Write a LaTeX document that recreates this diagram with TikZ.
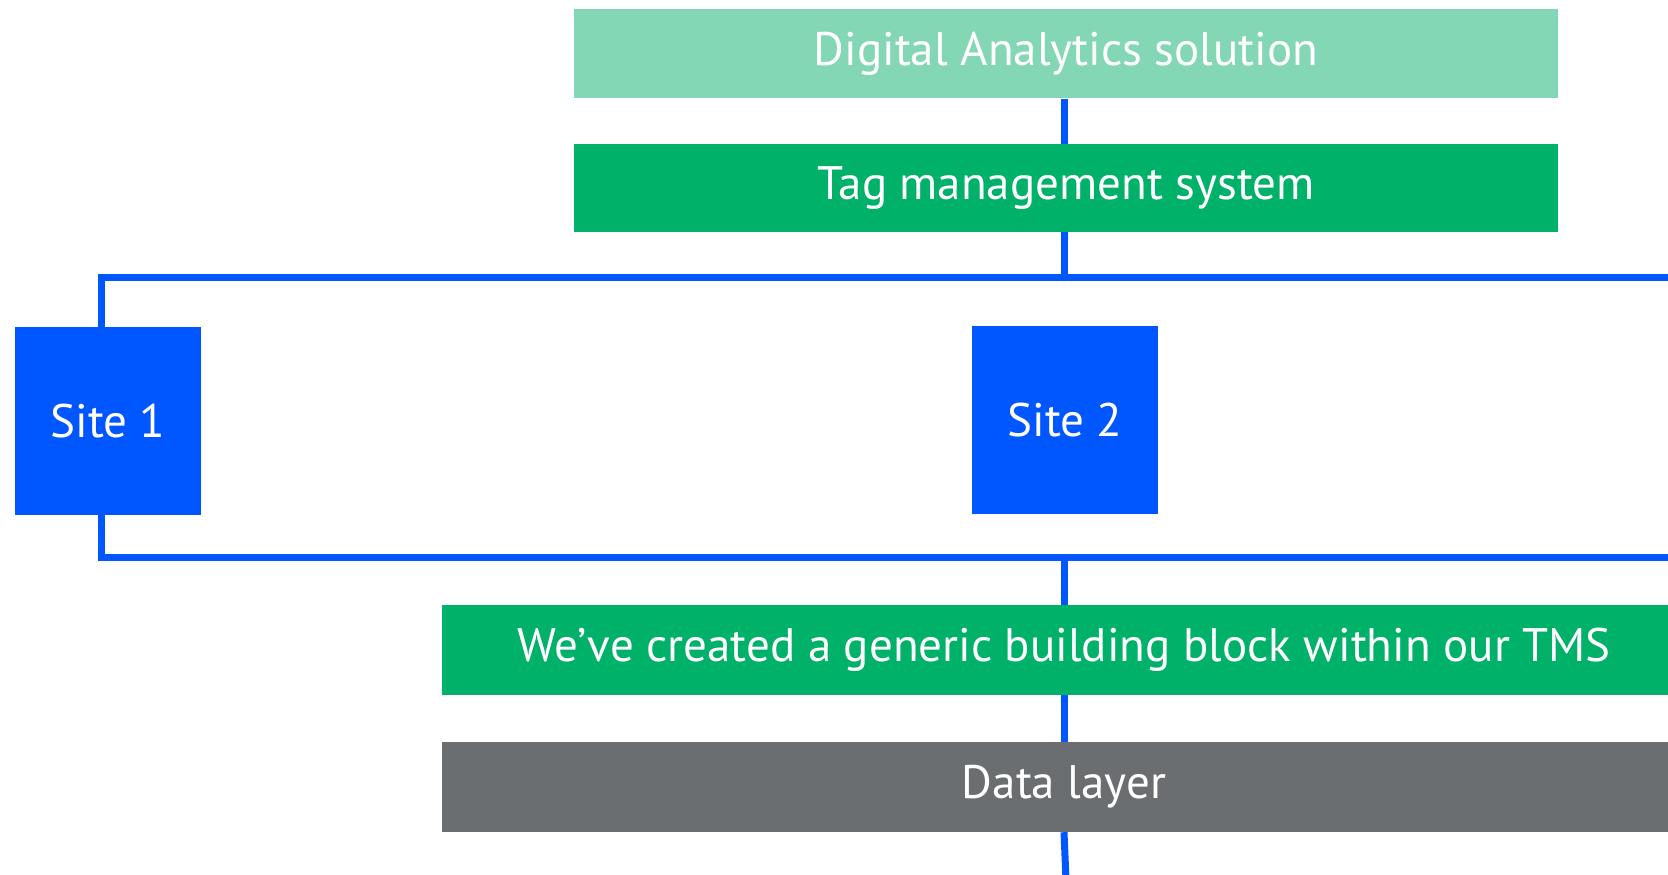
\documentclass[tikz,border=0pt]{standalone}
\usepackage{fontspec}
\setmainfont{PT Sans}
\usetikzlibrary{positioning}
\definecolor{dasgreen}{HTML}{84D7B4}
\definecolor{tmsgreen}{HTML}{00B169}
\definecolor{siteblue}{HTML}{0057FF}
\definecolor{layergray}{HTML}{6A6E71}
\tikzset{
		box/.style={fill=#1, text=white, inner sep=0pt, font=\fontsize{47}{56}\selectfont},
		wire/.style={line width=7pt, draw=siteblue, line join=miter}
	}

\begin{document}
\begin{tikzpicture}[x=1pt, y=1pt]
		\useasboundingbox (0,0) rectangle (1668,875);
		\clip (0,0) rectangle (1668,875);
		\node[box=dasgreen, minimum width=984, minimum height=89] (das) at (1066,821) {Digital Analytics solution};
		\node[box=tmsgreen, minimum width=984, minimum height=88] (tms) at (1066,687) {Tag management system};
		\node[box=siteblue, minimum width=186, minimum height=188] (site1) at (108,454) {Site 1};
		\node[box=siteblue, minimum width=186, minimum height=188] (site2) at (1065,455) {Site 2};
		\node[box=tmsgreen, minimum width=1244, minimum height=90] (block) at (1064,225) {We’ve created a generic building block within our TMS};
		\node[box=layergray, minimum width=1244, minimum height=90] (layer) at (1064,88) {Data layer};
		\coordinate (topright) at (1700,597); \coordinate (botright) at (1700,317); \coordinate (bottom) at (1066,-5);
		\draw[wire] ([xshift=-2pt]das.south) -- ([xshift=-2pt]tms.north);
		\draw[wire] ([xshift=-7pt]site1.north) |- (topright);
		\draw[wire] ([xshift=-2pt]tms.south) -- ([xshift=-2pt]tms.south |- topright);
		\draw[wire] ([xshift=-7pt]site1.south) |- (botright);
		\draw[wire] (block.north) -- (block.north |- botright);
		\draw[wire] (block.south) -- (layer.north);
		\draw[wire] (layer.south) -- (bottom);
	\end{tikzpicture}
\end{document}
